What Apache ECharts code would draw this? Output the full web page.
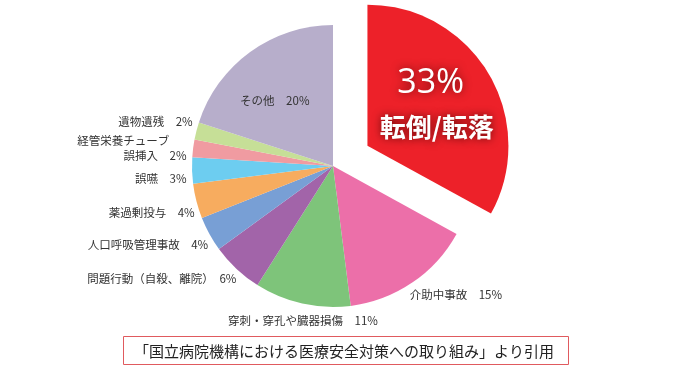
<!DOCTYPE html>
<html><head><meta charset="utf-8">
<script src="https://cdn.jsdelivr.net/npm/echarts@6/dist/echarts.min.js"></script>
<style>html,body{margin:0;padding:0;background:#fff}#c{width:675px;height:370px}</style>
</head><body><div id="c"></div>
<script>
const categories = ['転倒/転落','介助中事故','穿刺・穿孔や臓器損傷','問題行動（自殺、離院）','人口呼吸管理事故','薬過剰投与','誤嚥','経管栄養チューブ誤挿入','遺物遺残','その他'];
const values = [33,15,11,6,4,4,3,2,2,20];
const colors = ['#ED2129','#EC6FA9','#7EC47A','#A264A9','#789FD5','#F7AC5F','#6DCDF0','#F09BA1','#C6DF97','#B7AECB'];
const caption = '「国立病院機構における医療安全対策への取り組み」より引用';

const FONT = '"Noto Sans CJK JP", "Noto Sans", sans-serif';
const labelNudge = [
  { dy: -6 },
  { dx: -6, dy: 7 },
  { dx: 77, dy: 11 },
  { dx: 4, dy: 5 },
  { dx: 4, dy: 8 },
  { dx: 4, dy: 10 },
  {},
  { dy: -6 },
  { dx: 2, dy: -8 },
  { dx: -15, dy: -6 }
];

const data = categories.map((name, i) => {
  const item = { name: name, value: values[i], itemStyle: { color: colors[i] } };
  if (i === 0) {
    item.selected = true;
    item.label = {
      position: 'inside',
      formatter: p => '{big|' + p.value + '%}\n{name|' + p.name + '}',
      rich: {
        big: { fontSize: 34, color: '#fff', fontFamily: '"Open Sans", "Noto Sans", sans-serif', lineHeight: 50,
               textShadowColor: 'rgba(60,0,0,0.75)', textShadowBlur: 9 },
        name: { fontSize: 26, fontWeight: 'bold', color: '#fff', fontFamily: FONT, lineHeight: 38,
                padding: [0, 0, 0, 12],
                textShadowColor: 'rgba(60,0,0,0.75)', textShadowBlur: 9 }
      }
    };
  } else if (i === categories.length - 1) {
    item.label = { position: 'inside' };
  }
  return item;
});

const chart = echarts.init(document.getElementById('c'), null, { renderer: 'canvas' });
chart.setOption({
  animation: false,
  series: [{
    type: 'pie',
    center: [333, 166],
    radius: 141,
    startAngle: 90,
    clockwise: true,
    selectedMode: 'single',
    selectedOffset: 40,
    avoidLabelOverlap: true,
    emphasis: { disabled: true },
    itemStyle: { borderWidth: 0 },
    label: {
      position: 'outside',
      color: '#333',
      fontSize: 11.5,
      lineHeight: 15,
      fontFamily: FONT,
      distanceToLabelLine: 0,
      formatter: p => {
        const n = p.name.indexOf('チューブ') >= 0 ? p.name.replace('チューブ', 'チューブ\u3000\u2002\n') : p.name;
        return n + '\u3000' + p.value + '%';
      }
    },
    labelLine: { show: false, length: 6, length2: 0 },
    labelLayout: p => labelNudge[p.dataIndex],
    data: data
  }],
  graphic: [
    { type: 'rect', shape: { x: 123.5, y: 336.5, width: 445, height: 28 },
      style: { fill: 'none', stroke: '#E05A5E', lineWidth: 1 } },
    { type: 'text', x: 344, y: 351, style: { text: caption, fontSize: 15, fontFamily: FONT, fill: '#222',
      align: 'center', verticalAlign: 'middle' } }
  ]
});
</script></body></html>
